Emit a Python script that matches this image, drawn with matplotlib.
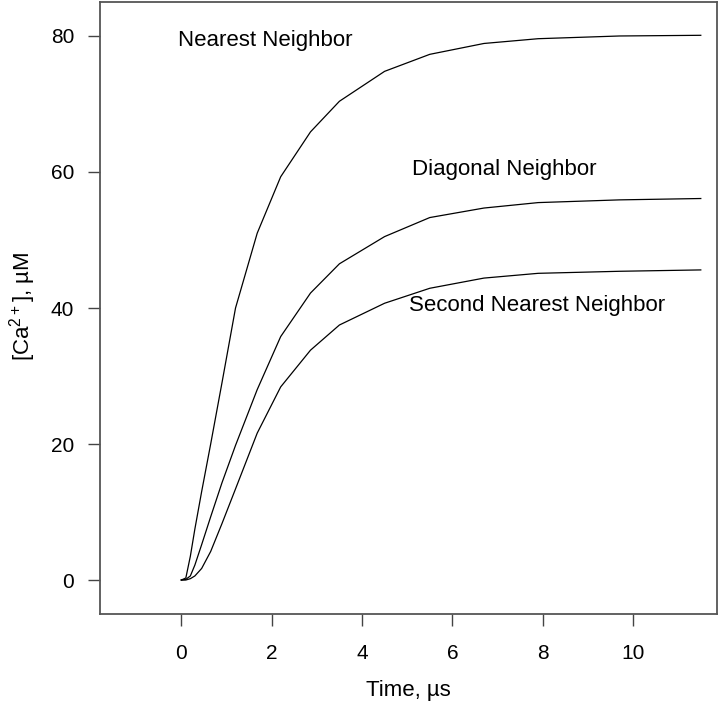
import matplotlib
matplotlib.use('Agg')
import matplotlib.pyplot as plt

plt.rcParams['font.family'] = ['Liberation Sans', 'DejaVu Sans']
plt.rcParams['mathtext.default'] = 'regular'

# simulation time points (microseconds)
time_us = [0, 0.1, 0.2, 0.3, 0.45, 0.65, 0.9, 1.2, 1.68, 2.2, 2.86, 3.5, 4.5, 5.5, 6.7, 7.9, 9.7, 11.5]

# calcium concentration (uM) at each neighbor
nearest = [0, 0.3, 3.5, 7.5, 13, 20, 29, 40, 51, 59.3, 65.9, 70.4, 74.8, 77.3, 78.9, 79.6, 80.0, 80.1]
diagonal = [0, 0.1, 0.6, 2.2, 5.2, 9.3, 14.3, 19.8, 28.0, 35.8, 42.2, 46.5, 50.5, 53.3, 54.7, 55.5, 55.9, 56.1]
second = [0, 0.0, 0.2, 0.6, 1.7, 4.2, 8.3, 13.4, 21.6, 28.4, 33.8, 37.5, 40.7, 42.9, 44.4, 45.1, 45.4, 45.6]

fig = plt.figure(figsize=(7.2, 7.07), dpi=100)
ax = fig.add_axes([0.1389, 0.1315, 0.857, 0.8657])

for y in (nearest, diagonal, second):
    ax.plot(time_us, y, color='black', linewidth=0.9)

ax.text(-0.07, 79.4, 'Nearest Neighbor', fontsize=16, va='center', ha='left')
ax.text(5.1, 60.3, 'Diagonal Neighbor', fontsize=16, va='center', ha='left')
ax.text(5.03, 40.3, 'Second Nearest Neighbor', fontsize=16, va='center', ha='left')

ax.set_xlim(-1.8, 11.86)
ax.set_ylim(-5, 85)
ax.set_xticks([0, 2, 4, 6, 8, 10])
ax.set_yticks([0, 20, 40, 60, 80])
ax.tick_params(direction='out', length=8.6, width=1, colors='#444444',
               labelcolor='black', labelsize=15)
ax.tick_params(axis='x', pad=13)
ax.tick_params(axis='y', pad=10)

for s in ax.spines.values():
    s.set_color('#555555')
    s.set_linewidth(1.3)

ax.set_xlabel('Time, µs', fontsize=16)
ax.set_ylabel('[Ca$^{2+}$], µM', fontsize=16)
ax.xaxis.set_label_coords(0.5, -0.108)
ax.yaxis.set_label_coords(-0.1, 0.503)

fig.savefig('out.png', dpi=100)
